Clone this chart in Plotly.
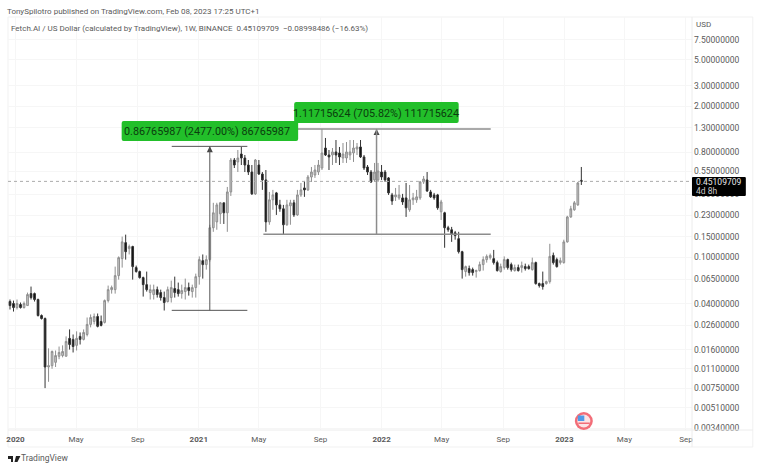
import pandas as pd
import plotly.graph_objects as go

W, H = 760, 469
LEFT, RIGHT, TOP, BOTTOM = 6, 692, 17, 430

# weekly FET/USD candles
opens = [
    .0508, .0417, .0401, .0370, .0393, .0370, .0385, .0488, .0488, .0434,
    .0316, .0298, .0114, .0117, .0125, .0141, .0143, .0141, .0201, .0197,
    .0175, .0209, .0197, .0217, .0265, .0281, .0310, .0281, .0276, .0425,
    .0528, .0528, .0697, .0976, .134, .119, .124, .0817, .0755, .0670,
    .0583, .0498, .0479, .0528, .0498, .0451, .0417, .0451, .0539, .0528,
    .0488, .0508, .0550, .0508, .0550, .0683, .0938, .0867, .0957, .180,
    .202, .237, .295, .242, .366, .689, .663, .776, .717, .624,
    .543, .352, .624, .522, .464, .202, .313, .359, .283, .262,
    .191, .278, .295, .232, .345, .396, .381, .492, .512, .543,
    .588, .874, .761, .761, .808, .792, .717, .717, .761, .792,
    .857, .892, .732, .600, .543, .464, .464, .543, .543, .483,
    .345, .332, .325, .325, .325, .257, .313, .313, .325, .446,
    .464, .366, .345, .345, .247, .242, .180, .173, .163, .145,
    .112, .0755, .0801, .0785, .0755, .0770, .0867, .0957, .0995, .0976,
    .0902, .0755, .0817, .0957, .0867, .0770, .0817, .0817, .0833, .0833,
    .0785, .0902, .0595, .0595, .0595, .0619, .104, .0957, .0902, .0902,
    .136, .223, .257, .283, .460,
]
highs = [
    .0518, .0434, .0425, .0434, .0409, .0417, .0498, .0561, .0498, .0442,
    .0323, .0304, .0165, .0158, .0158, .0171, .0175, .0209, .0240, .0217,
    .0231, .0226, .0240, .0304, .0323, .0329, .0329, .0316, .0434, .0572,
    .0572, .0833, .102, .151, .157, .129, .126, .0850, .0770, .0683,
    .0755, .0583, .0583, .0561, .0528, .0508, .0561, .0631, .0683, .0607,
    .0583, .0657, .0607, .0583, .0725, .102, .106, .104, .191, .295,
    .295, .300, .295, .404, .717, .717, .840, .892, .761, .689,
    .624, .703, .689, .543, .565, .366, .381, .366, .313, .283,
    .313, .313, .313, .381, .437, .455, .512, .600, .624, .689,
    1.275, 1.066, .840, .874, 1.024, .892, .965, .984, 1.024, 1.024,
    .965, 1.024, .761, .624, .565, .650, .650, .624, .565, .492,
    .359, .396, .420, .352, .437, .420, .359, .381, .455, .502,
    .543, .381, .359, .352, .313, .247, .187, .183, .169, .166,
    .114, .0850, .0850, .0817, .0785, .0920, .102, .106, .108, .116,
    .0938, .0884, .102, .0976, .0902, .0867, .0867, .0920, .0884, .0867,
    .0995, .0920, .0607, .0755, .0631, .131, .110, .0995, .0995, .142,
    .228, .278, .306, .446, .600,
]
lows = [
    .0409, .0356, .0342, .0356, .0363, .0363, .0385, .0434, .0417, .0310,
    .0292, .0075, .0085, .0110, .0114, .0133, .0138, .0141, .0161, .0152,
    .0158, .0178, .0193, .0209, .0250, .0265, .0250, .0255, .0270, .0409,
    .0488, .0488, .0644, .0817, .0957, .106, .0644, .0740, .0657, .0460,
    .0508, .0434, .0434, .0451, .0425, .0349, .0409, .0409, .0451, .0460,
    .0442, .0434, .0469, .0451, .0451, .0583, .0657, .0785, .0920, .166,
    .173, .194, .194, .166, .338, .588, .543, .624, .543, .512,
    .345, .345, .512, .381, .166, .191, .257, .232, .247, .157,
    .187, .191, .223, .228, .332, .332, .373, .446, .483, .512,
    .565, .746, .565, .624, .650, .624, .650, .650, .689, .663,
    .761, .717, .565, .512, .437, .446, .446, .464, .446, .345,
    .283, .306, .313, .283, .223, .247, .283, .295, .313, .429,
    .366, .325, .313, .257, .210, .121, .166, .136, .142, .108,
    .0657, .0683, .0697, .0697, .0670, .0755, .0770, .0902, .0957, .0867,
    .0755, .0740, .0785, .0785, .0755, .0755, .0755, .0740, .0770, .0785,
    .0770, .0583, .0550, .0528, .0583, .0595, .0867, .0817, .0867, .0884,
    .134, .219, .252, .278, .420,
]
closes = [
    .0417, .0385, .0370, .0401, .0370, .0401, .0479, .0451, .0434, .0316,
    .0298, .0114, .0117, .0155, .0143, .0152, .0155, .0189, .0178, .0171,
    .0201, .0197, .0226, .0265, .0304, .0310, .0255, .0260, .0425, .0528,
    .0550, .0697, .0995, .136, .112, .124, .0833, .0755, .0670, .0583,
    .0528, .0528, .0528, .0479, .0451, .0409, .0528, .0550, .0498, .0488,
    .0518, .0550, .0518, .0550, .0683, .0957, .0867, .0957, .180, .242,
    .283, .295, .242, .366, .689, .624, .717, .717, .624, .543,
    .352, .689, .522, .464, .202, .313, .345, .283, .262, .191,
    .283, .295, .232, .345, .381, .381, .492, .543, .565, .624,
    .792, .761, .732, .808, .761, .732, .776, .808, .808, .874,
    .892, .732, .588, .543, .446, .543, .554, .492, .464, .359,
    .306, .345, .345, .300, .267, .313, .325, .332, .446, .473,
    .373, .332, .325, .267, .300, .180, .173, .160, .154, .112,
    .0785, .0833, .0740, .0740, .0770, .0867, .0957, .102, .104, .0902,
    .0770, .0833, .0957, .0817, .0785, .0817, .0770, .0850, .0801, .0801,
    .0902, .0595, .0572, .0561, .0619, .102, .0902, .0833, .0938, .136,
    .223, .262, .295, .437, .45109709,
]
weeks = pd.date_range("2019-12-14", periods=len(opens), freq="7D")

last_price = 0.45109709
price_ticks = [7.5, 5, 3, 2, 1.3, .8, .55, .35, .23, .15, .1, .065, .04, .026, .016, .011, .0075, .0051, .0034]
date_ticks = ["2020-01-01", "2020-05-01", "2020-09-01", "2021-01-01", "2021-05-01", "2021-09-01",
              "2022-01-01", "2022-05-01", "2022-09-01", "2023-01-01", "2023-05-01", "2023-09-01"]
date_labels = ["<b>2020</b>", "May", "Sep", "<b>2021</b>", "May", "Sep",
               "<b>2022</b>", "May", "Sep", "<b>2023</b>", "May", "Sep"]

# measured moves drawn on the chart
m1_low, m1_high = 0.03503, 0.9027
m1_left, m1_mid, m1_right = "2020-11-08", "2021-01-23", "2021-04-08"
m2_low, m2_high = 0.1583, 1.2755
m2_left, m2_mid, m2_right = "2021-05-10", "2021-12-22", "2022-08-07"


def px(x):
    return (x - LEFT) / (RIGHT - LEFT)


def py(y):
    return 1 - (y - TOP) / (BOTTOM - TOP)


def round_box(x0, y0, x1, y1, r, color):
    a, b, c, d = px(x0), py(y0), px(x1), py(y1)
    rx, ry = r / (RIGHT - LEFT), r / (BOTTOM - TOP)
    path = (f"M{a+rx},{b} L{c-rx},{b} Q{c},{b} {c},{b-ry} L{c},{d+ry} Q{c},{d} {c-rx},{d} "
            f"L{a+rx},{d} Q{a},{d} {a},{d+ry} L{a},{b-ry} Q{a},{b} {a+rx},{b} Z")
    return dict(type="path", path=path, xref="paper", yref="paper", fillcolor=color,
                line=dict(width=0), layer="above")


def text(x, y, s, size=8, color="#5a5a5a", anchor="left", **kw):
    # annotations sit about 3px right of the given edge, hence the offset
    return dict(x=px(x - 3), y=py(y), xref="paper", yref="paper", text=s, showarrow=False,
                xanchor=anchor, yanchor="middle", font=dict(size=size, color=color),
                borderpad=0, **kw)


fig = go.Figure()

fig.add_trace(go.Candlestick(
    x=weeks, open=opens, high=highs, low=lows, close=closes,
    increasing=dict(fillcolor="#c6c6c6", line=dict(color="#8f8f8f", width=1)),
    decreasing=dict(fillcolor="#0a0a0a", line=dict(color="#333333", width=1)),
    whiskerwidth=0,
    showlegend=False,
))

# arrow tips on the two measuring lines
fig.add_trace(go.Scatter(
    x=[m1_mid, m2_mid], y=[m1_high, m2_high], mode="markers",
    marker=dict(symbol="arrow-up", size=6, color="#444444"),
    showlegend=False,
))

shapes = [
    # panel frame
    dict(type="rect", xref="paper", yref="paper", x0=0, x1=px(753), y0=py(447), y1=1,
         line=dict(color="#f1f1f1", width=1), layer="below"),
    dict(type="line", xref="paper", yref="paper", x0=1, x1=1, y0=py(447), y1=1,
         line=dict(color="#ececec", width=1)),
    dict(type="line", xref="paper", yref="paper", x0=0, x1=px(753), y0=0, y1=0,
         line=dict(color="#ececec", width=1)),
    # last price line
    dict(type="line", xref="paper", yref="y", x0=0, x1=1, y0=last_price, y1=last_price,
         line=dict(color="#ababab", width=1, dash="dot"), layer="above"),
    # first measure
    dict(type="line", x0=m1_left, x1=m1_right, y0=m1_high, y1=m1_high, line=dict(color="#555555", width=1)),
    dict(type="line", x0=m1_left, x1=m1_right, y0=m1_low, y1=m1_low, line=dict(color="#555555", width=1)),
    dict(type="line", x0=m1_mid, x1=m1_mid, y0=m1_low, y1=m1_high, line=dict(color="#555555", width=1)),
    # second measure
    dict(type="line", x0=m2_left, x1=m2_right, y0=m2_high, y1=m2_high, line=dict(color="#8c8c8c", width=1.5)),
    dict(type="line", x0=m2_left, x1=m2_right, y0=m2_low, y1=m2_low, line=dict(color="#8c8c8c", width=1.5)),
    dict(type="line", x0=m2_mid, x1=m2_mid, y0=m2_low, y1=m2_high, line=dict(color="#8c8c8c", width=1.5)),
    # green labels
    round_box(293, 102, 458, 123, 2, "#22bf2a"),
    round_box(120, 121, 297, 141, 2, "#22bf2a"),
    # last price tag
    round_box(692, 177, 746, 196, 1, "#000000"),
    # event flag
    dict(type="circle", xref="paper", yref="paper", x0=px(574.5), x1=px(592.5), y0=py(430), y1=py(412),
         fillcolor="#f26d78", line=dict(width=0), layer="above"),
    dict(type="circle", xref="paper", yref="paper", x0=px(577), x1=px(590), y0=py(427.5), y1=py(414.5),
         fillcolor="#fbe3e5", line=dict(width=0), layer="above"),
    dict(type="rect", xref="paper", yref="paper", x0=px(577.5), x1=px(584), y0=py(421), y1=py(415.5),
         fillcolor="#4f9be8", line=dict(width=0), layer="above"),
    dict(type="rect", xref="paper", yref="paper", x0=px(578), x1=px(589.5), y0=py(424), y1=py(422.5),
         fillcolor="#f26d78", line=dict(width=0), layer="above"),
    # TradingView mark
    dict(type="rect", xref="paper", yref="paper", x0=px(6), x1=px(11), y0=py(459), y1=py(456),
         fillcolor="#222222", line=dict(width=0)),
    dict(type="rect", xref="paper", yref="paper", x0=px(9), x1=px(11), y0=py(462), y1=py(456),
         fillcolor="#222222", line=dict(width=0)),
    dict(type="path", xref="paper", yref="paper", fillcolor="#222222", line=dict(width=0),
         path=f"M{px(14)},{py(456)} L{px(18.5)},{py(456)} L{px(15.5)},{py(462)} L{px(12.5)},{py(462)} Z"),
]

annotations = [
    text(7, 11, "TonySpilotro published on TradingView.com, Feb 08, 2023 17:25 UTC+1"),
    text(11, 28, "Fetch.AI / US Dollar (calculated by TradingView), 1W, BINANCE &nbsp;0.45109709 &nbsp;\u22120.08998486 (\u221216.63%)"),
    text(124, 131, "0.86765987 (2477.00%) 86765987", size=10.8, color="#0b3d0e"),
    text(293.5, 113, "1.11715624 (705.82%) 111715624", size=10.8, color="#0b3d0e"),
    text(698, 25, "USD"),
    text(698, 181.5, "0.45109709", size=8.5, color="#e8e8e8"),
    text(698, 190.5, "4d 8h", size=8.5, color="#c8c8c8"),
    text(21, 458, "TradingView", size=8.5),
]

fig.update_layout(
    width=W, height=H,
    autosize=False,
    margin=dict(l=LEFT, r=W - RIGHT, t=TOP, b=H - BOTTOM, pad=0),
    paper_bgcolor="white",
    plot_bgcolor="white",
    font=dict(family="Roboto, Inter, sans-serif", size=8, color="#5a5a5a"),
    shapes=shapes,
    annotations=annotations,
    xaxis=dict(
        type="date",
        range=["2019-12-17", "2023-09-13"],
        rangeslider=dict(visible=False),
        tickmode="array", tickvals=date_ticks, ticktext=date_labels,
        showgrid=True, gridcolor="#f6f6f6", gridwidth=1,
        ticks="", zeroline=False, showline=False,
        ticklabelstandoff=3,
    ),
    yaxis=dict(
        type="log",
        side="right",
        range=[-2.4854, 1.0689],
        autorange=False,
        tickmode="array", tickvals=price_ticks,
        ticktext=[f"{p:.8f}" for p in price_ticks],
        tickfont=dict(size=8.5),
        showgrid=True, gridcolor="#f6f6f6", gridwidth=1,
        ticks="", zeroline=False, showline=False,
        ticklabelstandoff=1,
    ),
)

# the page's default body margin would push the figure 8px off
fig.write_html("out.html", config={"displayModeBar": False},
               post_script="document.body.style.margin='0';")
